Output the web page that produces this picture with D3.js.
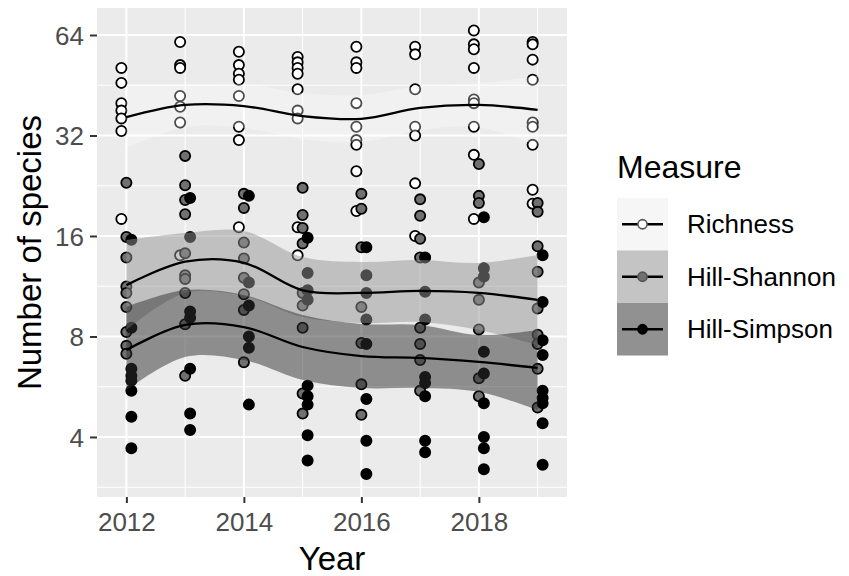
<!DOCTYPE html>
<html>
<head>
<meta charset="utf-8">
<script src="https://cdn.jsdelivr.net/npm/d3@7"></script>
<style>
  html, body { margin: 0; padding: 0; background: #ffffff; }
  svg { display: block; font-family: "Liberation Sans", Arial, sans-serif; }
</style>
</head>
<body>
<svg id="chart" width="849" height="576"></svg>
<script>
// ---- data ----------------------------------------------------------------
const years = [2012, 2013, 2014, 2015, 2016, 2017, 2018, 2019];
const measures = ["Richness", "Hill-Shannon", "Hill-Simpson"];

// observed site values per year (number of species)
const richness = [
  [51, 46, 40, 38, 36, 33, 18],
  [61, 52, 51, 42, 39, 35, 14],
  [57, 52, 49, 47, 42, 34, 31, 17],
  [55, 53, 51, 49, 44, 38, 36, 17, 14],
  [59, 53, 51, 40, 34, 31, 30, 25, 19],
  [59, 56, 44, 34, 32, 23, 16],
  [66, 60, 58, 51, 41, 40, 34, 28, 18],
  [61, 60, 54, 47, 35, 34, 30, 22, 20]
];
const hillShannon = [
  [23.1, 15.9, 13.8, 11.3, 10.8, 9.8, 8.25, 7.5, 7.1],
  [27.8, 22.7, 20.5, 18.6, 14.2, 12.2, 11.9, 10.8, 8.7, 6.1],
  [21.4, 19.4, 15.3, 13.7, 12.0, 10.7, 9.6, 6.7],
  [22.3, 18.5, 16.9, 15.2, 10.8, 9.9, 8.5, 5.4, 4.7],
  [21.4, 19.3, 14.8, 9.8, 7.65, 5.75, 4.66],
  [20.6, 18.4, 15.7, 13.8, 8.5, 7.6, 6.8, 5.5],
  [26.3, 21.1, 20.1, 11.6, 10.3, 8.4, 6.0, 5.3],
  [20.1, 18.9, 14.9, 12.5, 9.7, 8.1, 7.6, 6.4, 4.9]
];
const hillSimpson = [
  [15.6, 8.5, 6.4, 6.1, 5.9, 5.5, 4.6, 3.7],
  [20.8, 15.9, 9.5, 9.1, 6.4, 4.7, 4.2],
  [21.1, 11.6, 9.9, 8.0, 7.4, 5.0],
  [15.8, 12.4, 11.0, 10.3, 5.7, 5.3, 5.0, 4.05, 3.4],
  [14.8, 12.2, 10.8, 9.0, 7.6, 5.2, 3.9, 3.1],
  [13.8, 10.9, 9.0, 6.05, 5.8, 5.3, 3.9, 3.6],
  [18.2, 12.8, 12.1, 7.2, 6.2, 5.05, 4.0, 3.7, 3.2],
  [14.0, 10.15, 7.8, 7.04, 5.5, 5.23, 5.05, 4.4, 3.3]
];

// smoothed trend with confidence band, evaluated at each year
const richnessFit = [36.3, 39.5, 39.2, 36.6, 35.9, 38.7, 39.5, 38.2];
const richnessLow = [29.4, 33.9, 33.7, 31.2, 30.6, 33.2, 33.9, 29.8];
const richnessHigh = [45.6, 45.6, 45.6, 42.9, 42.3, 45.0, 45.9, 48.2];
const shannonFit = [11.4, 13.4, 13.3, 11.0, 10.8, 10.95, 10.8, 10.3];
const shannonLow = [8.37, 10.8, 10.58, 9.15, 8.78, 8.84, 8.37, 7.54];
const shannonHigh = [15.56, 16.33, 16.56, 13.84, 13.37, 13.56, 13.28, 14.04];
const simpsonFit = [7.29, 8.66, 8.54, 7.44, 6.99, 6.9, 6.71, 6.44];
const simpsonLow = [5.53, 6.95, 6.8, 5.93, 5.61, 5.61, 5.46, 4.82];
const simpsonHigh = [9.81, 11.02, 10.65, 9.28, 8.72, 8.66, 8.08, 8.37];

const xTicks = [2012, 2014, 2016, 2018];
const xMinor = [2013, 2015, 2017, 2019];
const yTicks = [4, 8, 16, 32, 64];

// ---- styling ---------------------------------------------------------------
const pointFill = { "Richness": "#ffffff", "Hill-Shannon": "#707070", "Hill-Simpson": "#000000" };
const ribbonFill = { "Richness": "#ffffff", "Hill-Shannon": "#959595", "Hill-Simpson": "#2f2f2f" };
const ribbonOpacity = { "Richness": 0.3, "Hill-Shannon": 0.5, "Hill-Simpson": 0.5 };
const dodge = { "Richness": -0.085, "Hill-Shannon": 0, "Hill-Simpson": 0.085 };

const seriesPoints = { "Richness": richness, "Hill-Shannon": hillShannon, "Hill-Simpson": hillSimpson };
const seriesSmooth = {
  "Richness": [richnessFit, richnessLow, richnessHigh],
  "Hill-Shannon": [shannonFit, shannonLow, shannonHigh],
  "Hill-Simpson": [simpsonFit, simpsonLow, simpsonHigh]
};

// ---- layout ----------------------------------------------------------------
const panel = { left: 97, right: 567, top: 8, bottom: 497 };
const svg = d3.select("#chart");

const x = d3.scaleLinear().domain([2011.5, 2019.5]).range([panel.left, panel.right]);
const y = d3.scaleLog().base(2).domain([2.644, 77.1]).range([panel.bottom, panel.top]);

// panel background
svg.append("rect")
  .attr("x", panel.left).attr("y", panel.top)
  .attr("width", panel.right - panel.left).attr("height", panel.bottom - panel.top)
  .attr("fill", "#ebebeb");

svg.append("clipPath").attr("id", "panel-clip")
  .append("rect")
  .attr("x", panel.left).attr("y", panel.top)
  .attr("width", panel.right - panel.left).attr("height", panel.bottom - panel.top);

const grid = svg.append("g");
// minor grid: midpoints between majors (log space for y)
const yMinor = [2 ** 1.5, 2 ** 2.5, 2 ** 3.5, 2 ** 4.5, 2 ** 5.5];
grid.selectAll("line.ymin").data(yMinor).join("line")
  .attr("x1", panel.left).attr("x2", panel.right)
  .attr("y1", d => y(d)).attr("y2", d => y(d))
  .attr("stroke", "#ffffff").attr("stroke-width", 1);
grid.selectAll("line.xmin").data(xMinor).join("line")
  .attr("y1", panel.top).attr("y2", panel.bottom)
  .attr("x1", d => x(d)).attr("x2", d => x(d))
  .attr("stroke", "#ffffff").attr("stroke-width", 1);
grid.selectAll("line.ymaj").data(yTicks).join("line")
  .attr("x1", panel.left).attr("x2", panel.right)
  .attr("y1", d => y(d)).attr("y2", d => y(d))
  .attr("stroke", "#ffffff").attr("stroke-width", 2);
grid.selectAll("line.xmaj").data(xTicks).join("line")
  .attr("y1", panel.top).attr("y2", panel.bottom)
  .attr("x1", d => x(d)).attr("x2", d => x(d))
  .attr("stroke", "#ffffff").attr("stroke-width", 2);

const plot = svg.append("g").attr("clip-path", "url(#panel-clip)");

// points
measures.forEach(m => {
  const pts = [];
  seriesPoints[m].forEach((vals, i) => vals.forEach(v => pts.push({ year: years[i], value: v })));
  plot.append("g").selectAll("circle").data(pts).join("circle")
    .attr("cx", d => x(d.year + dodge[m]))
    .attr("cy", d => y(d.value))
    .attr("r", 5.1)
    .attr("fill", pointFill[m])
    .attr("stroke", "#000000")
    .attr("stroke-width", 1.8);
});

// confidence ribbons
const curve = d3.curveCatmullRom.alpha(0.5);
measures.forEach(m => {
  const [fit, lo, hi] = seriesSmooth[m];
  const rows = years.map((yr, i) => ({ year: yr, fit: fit[i], lo: lo[i], hi: hi[i] }));
  plot.append("path").datum(rows)
    .attr("d", d3.area().curve(curve)
      .x(d => x(d.year)).y0(d => y(d.lo)).y1(d => y(d.hi)))
    .attr("fill", ribbonFill[m])
    .attr("fill-opacity", ribbonOpacity[m]);
});

// fitted lines
measures.forEach(m => {
  const [fit] = seriesSmooth[m];
  const rows = years.map((yr, i) => ({ year: yr, fit: fit[i] }));
  plot.append("path").datum(rows)
    .attr("d", d3.line().curve(curve).x(d => x(d.year)).y(d => y(d.fit)))
    .attr("fill", "none")
    .attr("stroke", "#000000")
    .attr("stroke-width", 2.3);
});

// axes
const xAxis = svg.append("g")
  .attr("transform", `translate(0,${panel.bottom})`)
  .call(d3.axisBottom(x).tickValues(xTicks).tickFormat(d3.format("d")).tickSize(6).tickPadding(10));
const yAxis = svg.append("g")
  .attr("transform", `translate(${panel.left},0)`)
  .call(d3.axisLeft(y).tickValues(yTicks).tickFormat(d3.format("d")).tickSize(7).tickPadding(6));
[xAxis, yAxis].forEach(a => {
  a.select(".domain").remove();
  a.selectAll(".tick line").attr("stroke", "#333333").attr("stroke-width", 2);
  a.selectAll(".tick text")
    .attr("fill", "#4d4d4d")
    .style("font-size", "26px")
    .style("font-family", "'Liberation Sans', Arial, sans-serif");
});
xAxis.selectAll(".tick text").attr("dy", "0.71em");
yAxis.selectAll(".tick text").attr("dy", "0.35em");

// axis titles
svg.append("text")
  .attr("x", (panel.left + panel.right) / 2).attr("y", 570)
  .attr("text-anchor", "middle")
  .style("font-size", "33px").attr("fill", "#000000")
  .text("Year");
svg.append("text")
  .attr("transform", `translate(41,${(panel.top + panel.bottom) / 2}) rotate(-90)`)
  .attr("text-anchor", "middle")
  .style("font-size", "33px").attr("fill", "#000000")
  .text("Number of species");

// legend
const legend = svg.append("g").attr("transform", "translate(617,0)");
legend.append("text")
  .attr("x", 0).attr("y", 178)
  .style("font-size", "32px").attr("fill", "#000000")
  .text("Measure");
const keyTop = 198, keyH = 52.5, keyW = 51;
measures.forEach((m, i) => {
  const g = legend.append("g").attr("transform", `translate(0,${keyTop + i * keyH})`);
  g.append("rect").attr("width", keyW).attr("height", keyH).attr("fill", "#f2f2f2");
  g.append("rect").attr("width", keyW).attr("height", keyH)
    .attr("fill", ribbonFill[m]).attr("fill-opacity", ribbonOpacity[m]);
  g.append("line")
    .attr("x1", 5).attr("x2", keyW - 5)
    .attr("y1", keyH / 2).attr("y2", keyH / 2)
    .attr("stroke", "#000000").attr("stroke-width", 2.3);
  g.append("circle")
    .attr("cx", keyW / 2).attr("cy", keyH / 2).attr("r", 4.6)
    .attr("fill", pointFill[m])
    .attr("stroke", m === "Hill-Simpson" ? "#000000" : "#555555")
    .attr("stroke-width", 1.6);
  g.append("text")
    .attr("x", 70).attr("y", keyH / 2).attr("dy", "0.35em")
    .style("font-size", "26px").attr("fill", "#000000")
    .text(m);
});
</script>
</body>
</html>
